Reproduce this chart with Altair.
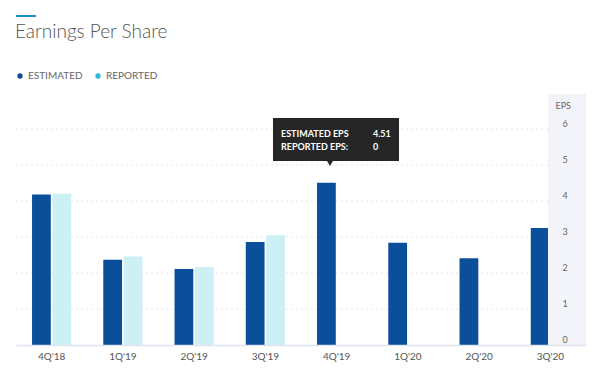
import altair as alt
import pandas as pd

quarters = ["4Q'18", "1Q'19", "2Q'19", "3Q'19", "4Q'19", "1Q'20", "2Q'20", "3Q'20"]
estimated = [4.18, 2.37, 2.11, 2.86, 4.51, 2.84, 2.41, 3.25]
reported = [4.20, 2.46, 2.17, 3.05, 0, 0, 0, 0]
series = ["ESTIMATED", "REPORTED"]
y_ticks = [0, 1, 2, 3, 4, 5, 6]
tip_labels = ["ESTIMATED EPS", "REPORTED EPS:"]
tip_quarter = "4Q'19"
title_text = "Earnings Per Share"

W, H = 570, 252
DARK = "#0b4f9b"
LIGHT = "#cdf0f5"
CYAN = "#2db8d4"

rows = []
for q, e, r in zip(quarters, estimated, reported):
    rows.append({"quarter": q, "series": "ESTIMATED", "eps": e})
    rows.append({"quarter": q, "series": "REPORTED", "eps": r})
bars_df = pd.DataFrame(rows)

ti = quarters.index(tip_quarter)
tip_vals = [estimated[ti], reported[ti]]
tip_df = pd.DataFrame({"label": tip_labels, "val": [f"{v:g}" for v in tip_vals], "row": [0, 1]})

yscale = alt.Scale(domain=[0, 7], nice=False)
one = pd.DataFrame({"a": [0]})

grid = alt.Chart(pd.DataFrame({"t": y_ticks[1:]})).mark_rule(
    color="#e4e7ee", strokeDash=[2, 3], strokeWidth=1
).encode(y=alt.Y("t:Q", scale=yscale), x=alt.value(0), x2=alt.value(532))

bars = alt.Chart(bars_df).mark_bar().encode(
    x=alt.X("quarter:N", sort=quarters, title=None,
            scale=alt.Scale(paddingInner=0.45, paddingOuter=0.225),
            axis=alt.Axis(labelAngle=0, labelFontSize=10, labelColor="#555",
                          labelFont="Lato", labelPadding=6, ticks=False,
                          domainColor="#dfe4ee", domainWidth=1.5, zindex=1)),
    xOffset=alt.XOffset("series:N", sort=series, scale=alt.Scale(paddingInner=0.08)),
    y=alt.Y("eps:Q", scale=yscale, title="EPS",
            axis=alt.Axis(orient="right", offset=-38, values=y_ticks, grid=False,
                          ticks=False, domain=False, labelAlign="left", labelPadding=14,
                          labelBaseline="bottom", labelOffset=-1,
                          labelFontSize=9, labelColor="#666", labelFont="Lato",
                          titleAngle=0, titleAlign="left", titleBaseline="middle",
                          titleX=7, titleY=12, titleFontSize=9, titleFontWeight="normal",
                          titleColor="#666", titleFont="Lato", zindex=1)),
    color=alt.Color("series:N", sort=series,
                    scale=alt.Scale(domain=series, range=[DARK, LIGHT]), legend=None),
)

panel = alt.Chart(one).mark_rect(color="#f3f4f9").encode(
    x=alt.value(532), x2=alt.value(W), y=alt.value(1), y2=alt.value(H)
)

legend_layer = alt.Chart(pd.DataFrame({"series": series})).transform_filter(
    "false"
).mark_point(filled=True).encode(
    color=alt.Color("series:N", sort=series,
                    scale=alt.Scale(domain=series, range=[DARK, CYAN]),
                    legend=alt.Legend(orient="none", legendX=-1, legendY=-22, direction="horizontal",
                                      title=None, symbolType="circle", symbolSize=28,
                                      symbolOpacity=1, symbolStrokeWidth=0,
                                      labelFontSize=10, labelColor="#666", labelFont="Lato",
                                      labelOffset=3, columnPadding=10, padding=0))
)

tip_box = alt.Chart(one).mark_rect(color="#262626").encode(
    x=alt.value(257), x2=alt.value(383), y=alt.value(25), y2=alt.value(68)
)
tip_arrow = alt.Chart(one).mark_point(
    shape="triangle-down", filled=True, color="#262626", opacity=1, size=50
).encode(x=alt.value(314), y=alt.value(70))

tip_texts = []
for i, yv in enumerate([41, 54]):
    base = alt.Chart(tip_df).transform_filter(f"datum.row == {i}")
    tip_texts.append(base.mark_text(align="left", baseline="middle", color="white",
                                    fontSize=9, fontWeight="bold", font="Lato").encode(
        text="label:N", x=alt.value(265), y=alt.value(yv)))
    tip_texts.append(base.mark_text(align="left", baseline="middle", color="white",
                                    fontSize=9, fontWeight="bold", font="Lato").encode(
        text="val:N", x=alt.value(357), y=alt.value(yv)))

deco = alt.Chart(one).mark_rule(color="#1b8ec2", strokeWidth=2).encode(
    x=alt.value(0), x2=alt.value(20), y=alt.value(-77)
)

title = alt.Chart(one).mark_text(
    align="left", baseline="middle", fontSize=19, font="Lato", fontWeight=300, color="#555"
).encode(text=alt.value(title_text), x=alt.value(-1), y=alt.value(-61))

chart = alt.layer(grid, bars, panel, legend_layer, tip_box, tip_arrow, *tip_texts, deco, title).resolve_scale(
    color="independent"
).properties(
    width=W, height=H,
    autosize=alt.AutoSizeParams(type="none"),
    padding={"left": 8, "top": 85, "right": 6, "bottom": 28},
).configure_view(stroke=None)

chart.save("out.html", embed_options={"renderer": "svg", "actions": False})
